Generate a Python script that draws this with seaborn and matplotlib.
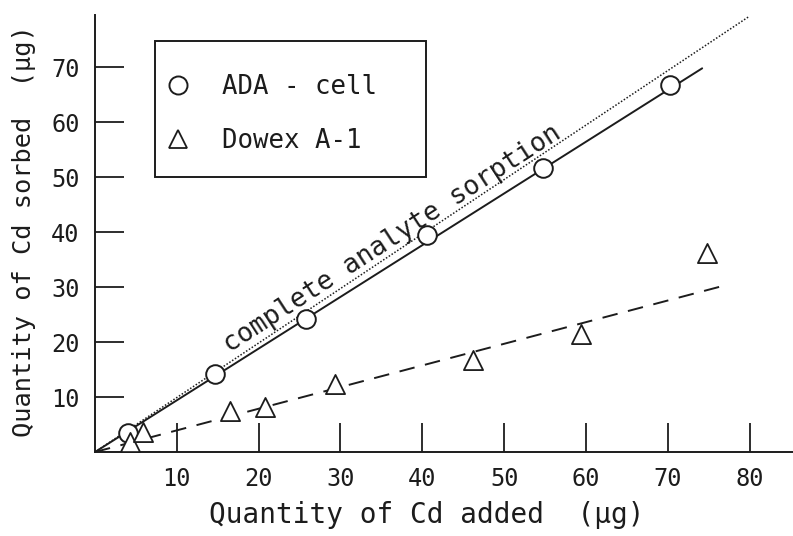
import numpy as np
import pandas as pd
import seaborn as sns
import matplotlib.pyplot as plt
from matplotlib.lines import Line2D
from matplotlib.patches import Rectangle

# === Values ===
ada_added = [4.0, 14.7, 25.8, 40.6, 54.8, 70.3]
ada_sorbed = [3.5, 14.2, 24.2, 39.4, 51.6, 66.8]

dowex_added = [4.3, 5.9, 16.5, 20.8, 29.3, 46.2, 59.4, 74.8]
dowex_sorbed = [1.8, 3.6, 7.5, 8.2, 12.4, 16.7, 21.5, 36.2]

# drawn lines (end points)
ada_fit_x = [0, 74.2]
ada_fit_y = [0, 69.8]
dowex_fit_x = [0, 76.7]
dowex_fit_y = [0, 30.2]
complete_x = [0, 80]
complete_y = [0, 79.3]

x_ticks = [10, 20, 30, 40, 50, 60, 70, 80]
y_ticks = [10, 20, 30, 40, 50, 60, 70]

ink = "#1c1c1c"

sns.set_theme(style="white")
plt.rcParams['font.family'] = ['DejaVu Sans Mono', 'DejaVu Sans']
plt.rcParams['text.color'] = ink

ada = pd.DataFrame({'added': ada_added, 'sorbed': ada_sorbed})
dowex = pd.DataFrame({'added': dowex_added, 'sorbed': dowex_sorbed})

fig = plt.figure(figsize=(7.93, 5.36), dpi=100)
ax = fig.add_axes([0.1198, 0.1567, 0.8802, 0.8153])

# lines
ax.plot(complete_x, complete_y, color=ink, lw=1.1, linestyle=(0, (1, 1.2)))
ax.plot(ada_fit_x, ada_fit_y, color=ink, lw=1.4)
ax.plot(dowex_fit_x, dowex_fit_y, color=ink, lw=1.4, linestyle=(0, (8, 5.5)))

# markers
sns.scatterplot(data=ada, x='added', y='sorbed', ax=ax, marker='o', s=180,
                facecolor='white', edgecolor=ink, linewidth=1.4, zorder=3)
sns.scatterplot(data=dowex, x='added', y='sorbed', ax=ax, marker='^', s=190,
                facecolor='white', edgecolor=ink, linewidth=1.3, zorder=3)

ax.text(36.3, 38.8, "complete analyte sorption", rotation=33, rotation_mode='anchor',
        ha='center', va='center', fontsize=19, color=ink)

ax.set_xlim(0, 85.3)
ax.set_ylim(0, 79.5)
ax.set_xticks(x_ticks)
ax.set_yticks(y_ticks)
ax.tick_params(direction='in', length=21, width=1.3, color=ink, labelsize=17,
               labelcolor=ink, bottom=True, left=True)
ax.tick_params(axis='x', pad=11)
ax.tick_params(axis='y', pad=11)

for side in ['top', 'right']:
    ax.spines[side].set_visible(False)
for side in ['left', 'bottom']:
    ax.spines[side].set_color(ink)
    ax.spines[side].set_linewidth(1.4)

ax.set_xlabel("Quantity of Cd added  (µg)", fontsize=20, color=ink)
ax.set_ylabel("Quantity of Cd sorbed  (µg)", fontsize=18.3, color=ink)
ax.xaxis.set_label_coords(0.476, -0.112)
ax.yaxis.set_label_coords(-0.0845, 0.506)

# legend box
ax.add_patch(Rectangle((0.086, 0.629), 0.388, 0.311, transform=ax.transAxes,
                       fill=False, edgecolor=ink, linewidth=1.4, zorder=4))
handles = [
    Line2D([], [], marker='o', linestyle='none', markersize=13, markerfacecolor='white',
           markeredgecolor=ink, markeredgewidth=1.4),
    Line2D([], [], marker='^', linestyle='none', markersize=13, markerfacecolor='white',
           markeredgecolor=ink, markeredgewidth=1.3),
]
ax.legend(handles, ["ADA - cell", "Dowex A-1"], loc='upper left',
          bbox_to_anchor=(0.1003, 0.866), fontsize=18.5, frameon=False,
          borderpad=0, labelspacing=1.12, handlelength=1.0, handletextpad=1.22,
          borderaxespad=0)

fig.savefig("out.png", dpi=100, facecolor='white')
